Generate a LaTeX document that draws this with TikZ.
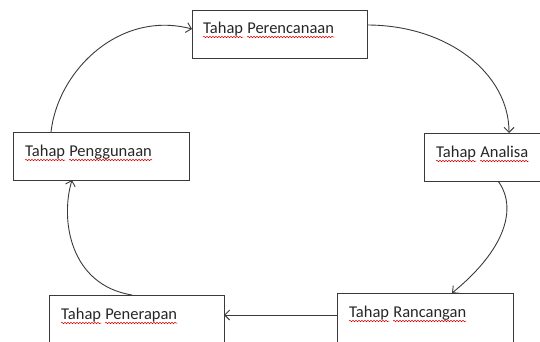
\documentclass[tikz,border=0pt]{standalone}
\usepackage{fontspec}
\setmainfont{Carlito}
\usetikzlibrary{arrows.meta,decorations.pathmorphing}
\definecolor{linegray}{HTML}{3A3A3A}
\definecolor{txtgray}{HTML}{262626}
\tikzset{
  x=1pt,y=-1pt,
  stagebox/.style={draw=linegray,line width=1.1pt,fill=none,anchor=north west,inner sep=0pt},
  stagetext/.style={anchor=base west,inner sep=0pt,text=txtgray,font=\fontsize{16.5}{19}\selectfont},
  flow/.style={draw=linegray,line width=0.9pt,-{Straight Barb[length=5pt,width=10pt]}},
  spell/.style={draw=red!85!black,line width=0.5pt,decorate,decoration={snake,amplitude=0.7pt,segment length=3pt}}
}
\begin{document}
\begin{tikzpicture}
\useasboundingbox (0,0) rectangle (540,341);
% boxes
\node[stagebox,minimum width=175pt,minimum height=48pt] (b1) at (192,10) {};
\node[stagebox,minimum width=130pt,minimum height=48pt] (b2) at (424,133) {};
\node[stagebox,minimum width=176pt,minimum height=60pt] (b3) at (337,293) {};
\node[stagebox,minimum width=175pt,minimum height=60pt] (b4) at (49,295) {};
\node[stagebox,minimum width=176pt,minimum height=48pt] (b5) at (13,132) {};
% texts (word by word)
\node[stagetext] (t1a) at (203,33) {Tahap};
\node[stagetext] (t1b) at ([xshift=3.8pt]t1a.base east) {Perencanaan};
\node[stagetext] (t2a) at (436,157) {Tahap};
\node[stagetext] (t2b) at ([xshift=3.8pt]t2a.base east) {Analisa};
\node[stagetext] (t3a) at (349,317) {Tahap};
\node[stagetext] (t3b) at ([xshift=3.8pt]t3a.base east) {Rancangan};
\node[stagetext] (t4a) at (61,319) {Tahap};
\node[stagetext] (t4b) at ([xshift=3.8pt]t4a.base east) {Penerapan};
\node[stagetext] (t5a) at (25,156) {Tahap};
\node[stagetext] (t5b) at ([xshift=3.8pt]t5a.base east) {Penggunaan};
% spell-check underlines
\foreach \w in {t1a,t1b,t2a,t2b,t3a,t3b,t4a,t4b,t5a,t5b}{
  \draw[spell] ([yshift=-4pt]\w.base west) -- ([yshift=-4pt]\w.base east);
}
% connector anchor points
\coordinate (c1s) at (367,25);
\coordinate (c1e) at (509,133);
\coordinate (c2s) at (498,181);
\coordinate (c2e) at (452,293);
\coordinate (c3s) at (337,315);
\coordinate (c3e) at (224,315);
\coordinate (c4s) at (132,295);
\coordinate (c4e) at (72,180);
\coordinate (c5s) at (51,132);
\coordinate (c5e) at (192,29);
% connectors
\draw[flow] (c1s) .. controls (447,25) and (509,73) .. (c1e);
\draw[flow] (c2s) .. controls (518,208) and (505,250) .. (c2e);
\draw[flow] (c3s) -- (c3e);
\draw[flow] (c4s) .. controls (70,285) and (60,220) .. (c4e);
\draw[flow] (c5s) .. controls (58,70) and (120,10) .. (c5e);
\end{tikzpicture}
\end{document}
